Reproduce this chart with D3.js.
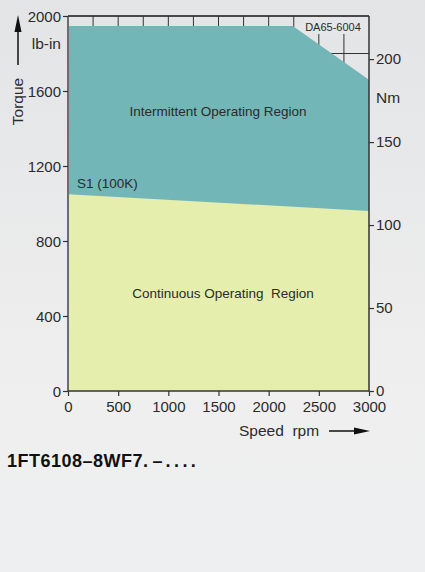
<!DOCTYPE html>
<html>
<head>
<meta charset="utf-8">
<script src="https://cdn.jsdelivr.net/npm/d3@7"></script>
<style>
  html, body { margin: 0; padding: 0; }
  body { width: 425px; height: 572px; overflow: hidden; }
  svg { display: block; font-family: "Liberation Sans", Arial, Helvetica, sans-serif; }
  text { white-space: pre; }
</style>
</head>
<body>
<svg id="chart" width="425" height="572"></svg>
<script>
// Speed axis (rpm) and torque axes (lb-in on the left, Nm on the right)
const speedTicks = [0, 500, 1000, 1500, 2000, 2500, 3000];
const torqueTicksLbIn = [0, 400, 800, 1200, 1600, 2000];
const torqueTicksNm = [0, 50, 100, 150, 200];
const gridSpeeds = [250, 500, 750, 1000, 1250, 1500, 1750, 2000, 2250, 2500, 2750];
const gridTorques = [200, 400, 600, 800, 1000, 1200, 1400, 1600, 1800, 2000];

// Intermittent limit curve (lb-in)
const intermittentSpeed = [0, 2240, 3000];
const intermittentTorque = [1947, 1947, 1660];

// Continuous S1 (100K) curve (lb-in)
const continuousSpeed = [0, 3000];
const continuousTorque = [1050, 960];

const LBIN_PER_NM = 8.8507;

const svg = d3.select("#chart");
const W = 425, H = 572;

// page background
const defs = svg.append("defs");
const grad = defs.append("linearGradient").attr("id", "bg").attr("x1", 0).attr("y1", 0).attr("x2", 0).attr("y2", 1);
grad.append("stop").attr("offset", "0%").attr("stop-color", "#e3e4e6");
grad.append("stop").attr("offset", "70%").attr("stop-color", "#efefef");
grad.append("stop").attr("offset", "100%").attr("stop-color", "#eeeff1");
svg.append("rect").attr("width", W).attr("height", H).attr("fill", "url(#bg)");

const x = d3.scaleLinear().domain([0, 3000]).range([68, 369]);
const y = d3.scaleLinear().domain([0, 2000]).range([391, 16]);
const yNm = d3.scaleLinear().domain([0, 2000 / LBIN_PER_NM]).range([391, 16]);

const textColor = "#2b2b2b";

// grid
const grid = svg.append("g").attr("stroke", "#333").attr("stroke-width", 1);
grid.selectAll("line.v").data(gridSpeeds).join("line")
  .attr("x1", d => x(d)).attr("x2", d => x(d))
  .attr("y1", y(2000)).attr("y2", y(0));
grid.selectAll("line.h").data(gridTorques).join("line")
  .attr("x1", x(0)).attr("x2", x(3000))
  .attr("y1", d => y(d)).attr("y2", d => y(d));

// backing patch behind the drawing number
svg.append("rect").attr("x", 300).attr("y", 17).attr("width", 68).attr("height", 17).attr("fill", "#e5e6e8");

// regions
const interPts = intermittentSpeed.map((s, i) => [s, intermittentTorque[i]]);
const contPts = continuousSpeed.map((s, i) => [s, continuousTorque[i]]);

const area = d3.area().x(d => x(d[0])).y0(y(0)).y1(d => y(d[1]));
svg.append("path").datum(interPts).attr("d", area).attr("fill", "#73b6b7");
svg.append("path").datum(contPts).attr("d", area).attr("fill", "#e6eead");

svg.append("text").attr("x", 333).attr("y", 31).attr("text-anchor", "middle")
  .attr("font-size", 11).attr("fill", textColor).text("DA65-6004");

// axes
const fontSize = 15;
const leftAxis = d3.axisLeft(y).tickValues(torqueTicksLbIn).tickSize(5).tickPadding(2).tickFormat(d3.format("d"));
const gL = svg.append("g").attr("transform", `translate(${x(0)},0)`).call(leftAxis);
const rightAxis = d3.axisRight(yNm).tickValues(torqueTicksNm).tickSize(5).tickPadding(2).tickFormat(d3.format("d"));
const gR = svg.append("g").attr("transform", `translate(${x(3000)},0)`).call(rightAxis);
const bottomAxis = d3.axisBottom(x).tickValues(speedTicks).tickSize(5).tickPadding(3).tickFormat(d3.format("d"));
const gB = svg.append("g").attr("transform", `translate(0,${y(0)})`).call(bottomAxis);

[gL, gR, gB].forEach(g => {
  g.selectAll("text").attr("font-size", fontSize).attr("fill", textColor)
    .attr("font-family", "Liberation Sans, Arial, sans-serif");
  g.selectAll(".tick line").attr("stroke", "#333").attr("stroke-width", 1.2);
  g.select(".domain").attr("stroke", "#333").attr("stroke-width", 1.5);
});
gL.select(".domain").attr("d", `M0,${y(2000)}V${y(0)}`).attr("stroke", "#6d6d6d").attr("stroke-width", 2);
gR.select(".domain").attr("d", `M0,${y(2000)}V${y(0)}`);
gB.select(".domain").attr("d", `M${x(0)},0H${x(3000)}`);
gL.selectAll(".tick text").attr("dy", "0.36em");
gR.selectAll(".tick text").attr("dy", "0.32em");
gB.selectAll(".tick text").attr("dy", "0.84em");

// top border
svg.append("line").attr("x1", x(0)).attr("x2", x(3000)).attr("y1", y(2000)).attr("y2", y(2000))
  .attr("stroke", "#333").attr("stroke-width", 1.5);

// unit labels
svg.append("text").attr("x", 61).attr("y", 49).attr("text-anchor", "end")
  .attr("font-size", 15.5).attr("fill", textColor).text("lb-in");
svg.append("text").attr("x", 376).attr("y", 103)
  .attr("font-size", 15.5).attr("fill", textColor).text("Nm");

// Torque label with arrow
svg.append("text").attr("transform", "translate(23,101.5) rotate(-90)").attr("text-anchor", "middle")
  .attr("font-size", 15.5).attr("fill", textColor).text("Torque");
svg.append("line").attr("x1", 18).attr("x2", 18).attr("y1", 65).attr("y2", 28)
  .attr("stroke", "#111").attr("stroke-width", 1.5);
svg.append("path").attr("d", "M18,15 L21.5,32 L14.5,32 Z").attr("fill", "#111");

// Speed label with arrow
svg.append("text").attr("x", 239).attr("y", 436)
  .attr("font-size", 15.5).attr("fill", textColor).text("Speed  rpm");
svg.append("line").attr("x1", 329).attr("x2", 358).attr("y1", 431).attr("y2", 431)
  .attr("stroke", "#111").attr("stroke-width", 1.5);
svg.append("path").attr("d", "M370,431 L354,427.5 L354,434.5 Z").attr("fill", "#111");

// region labels
svg.append("text").attr("x", 218).attr("y", 116).attr("text-anchor", "middle")
  .attr("font-size", 13.5).attr("fill", textColor).text("Intermittent Operating Region");
svg.append("text").attr("x", 223).attr("y", 298).attr("text-anchor", "middle")
  .attr("font-size", 13.5).attr("fill", textColor).text("Continuous Operating  Region");
svg.append("text").attr("x", 77).attr("y", 188)
  .attr("font-size", 13.5).attr("fill", textColor).text("S1 (100K)");

// motor designation
const title = svg.append("text").attr("x", 7).attr("y", 467)
  .attr("font-size", 18).attr("font-weight", "bold").attr("fill", "#111");
title.append("tspan").attr("letter-spacing", "0.5px").text("1FT6108–8WF7.");
title.append("tspan").attr("dx", 4).text("–");
title.append("tspan").attr("dx", 3).attr("letter-spacing", "3.4px").text("....");
</script>
</body>
</html>
